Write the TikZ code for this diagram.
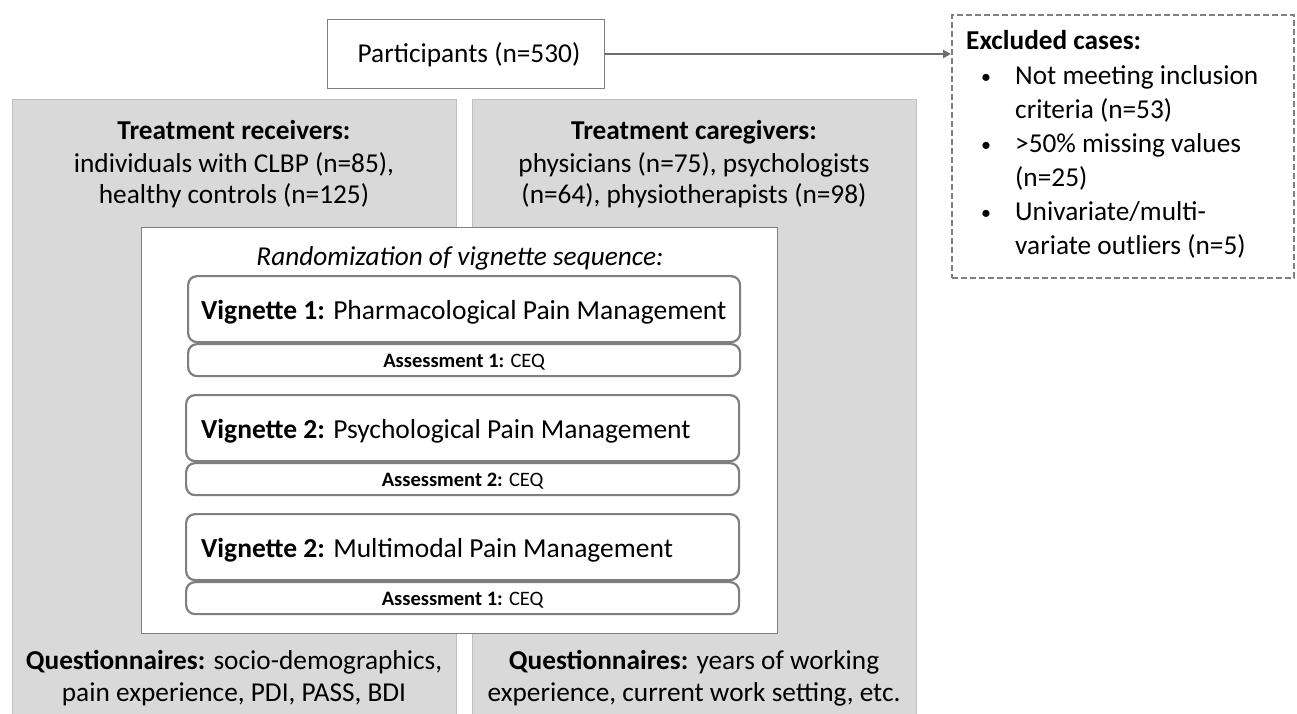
\documentclass[tikz,border=0pt]{standalone}
\usepackage{fontspec}
\setmainfont{Carlito}
\usetikzlibrary{arrows.meta}
\definecolor{panelgrey}{HTML}{D9D9D9}
\definecolor{panelline}{HTML}{BFBFBF}
\definecolor{boxline}{HTML}{7F7F7F}
\definecolor{arrowcol}{HTML}{6E6E6E}
\tikzset{
  big/.style={font=\fontsize{27.3}{34}\selectfont, inner sep=0pt, anchor=base},
  bigw/.style={big, anchor=base west},
  bul/.style={font=\fontsize{20}{24}\selectfont, inner sep=0pt, anchor=base},
  vig/.style={font=\fontsize{27.5}{34}\selectfont, inner sep=0pt, anchor=base west},
  small/.style={font=\fontsize{20.5}{24}\selectfont, inner sep=0pt, anchor=base},
  panel/.style={fill=panelgrey, draw=panelline, line width=1pt},
  plainbox/.style={fill=white, draw=boxline, line width=1pt},
  rbox/.style={fill=white, draw=boxline, line width=2.2pt, rounded corners=9pt},
}
\begin{document}
\begin{tikzpicture}[x=1pt,y=-1pt]
\useasboundingbox (0,0) rectangle (1297,713);
\fill[white] (0,0) rectangle (1297,713);

% panels
\path[panel] (12,99) rectangle (456,720);
\path[panel] (472,99) rectangle (916,720);

% participants
\node[plainbox, minimum width=277pt, minimum height=69pt, anchor=north west] (part) at (327,19) {};
\node[big] (partt) at (469,62) {Participants (n=530)};

% excluded box
\node[draw=boxline, line width=2pt, dash pattern=on 6pt off 3pt, minimum width=342pt, minimum height=263pt, anchor=north west, fill=white] (excl) at (951,14) {};
\coordinate (arrend) at (excl.west |- part.east);
\draw[arrowcol, line width=2pt, -{Triangle[length=8pt,width=8pt]}] (part.east) -- (arrend);

\node[bigw] (ex0) at (966,49) {\textbf{Excluded cases:}};
\node[bul] (b1) at (986,83) {•};
\node[bigw] (ex1) at (1015,84) {Not meeting inclusion};
\node[bigw] (ex2) at (1015,118) {criteria (n=53)};
\node[bul] (b2) at (986,151) {•};
\node[bigw] (ex3) at (1015,152) {>50\% missing values};
\node[bigw] (ex4) at (1015,186) {(n=25)};
\node[bul] (b3) at (986,219) {•};
\node[bigw] (ex5) at (1015,220) {Univariate/multi-};
\node[bigw] (ex6) at (1015,254) {variate outliers (n=5)};

% panel texts
\node[big] (tr0) at (234,139) {\textbf{Treatment receivers:}};
\node[big] (tr1) at (234,172) {individuals with CLBP (n=85),};
\node[big] (tr2) at (234,203) {healthy controls (n=125)};
\node[big] (tc0) at (694,139) {\textbf{Treatment caregivers:}};
\node[big] (tc1) at (694,172) {physicians (n=75), psychologists};
\node[big] (tc2) at (694,203) {(n=64), physiotherapists (n=98)};
\node[big] (q0) at (234,669) {\textbf{Questionnaires:} socio-demographics,};
\node[big] (q1) at (234,701) {pain experience, PDI, PASS, BDI};
\node[big] (q2) at (694,669) {\textbf{Questionnaires:} years of working};
\node[big] (q3) at (694,701) {experience, current work setting, etc.};

% inner box
\node[plainbox, minimum width=636pt, minimum height=406pt, anchor=north west] (inner) at (141,227) {};
\node[big] (rand) at (460,265) {\textit{Randomization of vignette sequence:}};

% vignettes
\node[rbox, minimum width=552pt, minimum height=66pt, anchor=north west] (v1) at (187,275) {};
\node[rbox, minimum width=552pt, minimum height=32pt, anchor=north west] (a1) at (187,343) {};
\node[vig] (v1t) at (201,319) {\textbf{Vignette 1:} Pharmacological Pain Management};
\node[small] (a1t) at (a1.center) [yshift=-7pt] {\textbf{Assessment 1:} CEQ};

\node[rbox, minimum width=553pt, minimum height=66pt, anchor=north west] (v2) at (185,394) {};
\node[rbox, minimum width=553pt, minimum height=32pt, anchor=north west] (a2) at (185,462) {};
\node[vig] (v2t) at (201,438) {\textbf{Vignette 2:} Psychological Pain Management};
\node[small] (a2t) at (a2.center) [yshift=-7pt] {\textbf{Assessment 2:} CEQ};

\node[rbox, minimum width=553pt, minimum height=66pt, anchor=north west] (v3) at (185,513) {};
\node[rbox, minimum width=553pt, minimum height=32pt, anchor=north west] (a3) at (185,581) {};
\node[vig] (v3t) at (201,557) {\textbf{Vignette 2:} Multimodal Pain Management};
\node[small] (a3t) at (a3.center) [yshift=-7pt] {\textbf{Assessment 1:} CEQ};
\end{tikzpicture}
\end{document}
